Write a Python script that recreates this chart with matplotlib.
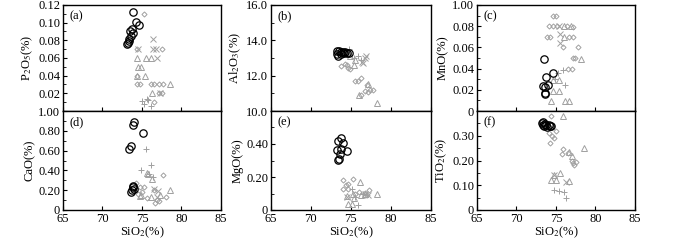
import matplotlib
matplotlib.use('Agg')
import matplotlib.pyplot as plt
from matplotlib.ticker import MultipleLocator

plt.rcParams['font.family'] = ['Liberation Serif', 'DejaVu Serif']
plt.rcParams['mathtext.fontset'] = 'stix'

# (SiO2, oxide) pairs, per symbol group
# (a) P2O5
p2o5_circle = [(73.8, 0.112), (74.3, 0.101), (74.6, 0.097), (73.7, 0.093), (73.5, 0.091), (73.8, 0.088),
               (73.6, 0.085), (73.4, 0.082), (73.3, 0.079), (73.2, 0.077), (73.1, 0.076)]
p2o5_diamond = [(75.3, 0.110), (74.4, 0.070), (77.5, 0.070), (74.4, 0.030), (74.7, 0.030), (76.1, 0.030),
                (76.5, 0.030), (77.2, 0.030), (77.7, 0.030), (77.1, 0.020), (77.5, 0.020), (76.5, 0.010),
                (74.4, 0.040)]
p2o5_triangle = [(74.4, 0.060), (75.5, 0.060), (76.2, 0.060), (74.5, 0.050), (74.9, 0.050), (74.4, 0.040),
                 (75.4, 0.040), (78.6, 0.030), (76.3, 0.020)]
p2o5_cross = [(76.4, 0.082), (76.4, 0.070), (76.8, 0.070), (76.9, 0.060), (74.45, 0.070), (77.3, 0.020)]
p2o5_plus = [(74.95, 0.011), (75.6, 0.014), (76.2, 0.006), (75.3, 0.008), (75.8, 0.012)]

# (d) CaO
cao_circle = [(74.0, 0.885), (73.8, 0.86), (75.1, 0.78), (73.6, 0.65), (73.3, 0.62), (73.8, 0.24),
              (74.0, 0.21), (73.6, 0.18), (73.9, 0.23), (73.7, 0.20)]
cao_diamond = [(77.7, 0.355), (74.3, 0.27), (75.3, 0.23), (74.8, 0.23), (75.6, 0.12), (76.9, 0.10),
               (78.0, 0.13), (76.7, 0.07), (74.5, 0.16), (77.2, 0.09), (76.5, 0.20), (75.0, 0.18)]
cao_triangle = [(75.6, 0.37), (76.3, 0.31), (78.5, 0.20), (74.7, 0.14), (74.9, 0.15), (76.2, 0.13),
                (77.3, 0.15), (75.8, 0.36)]
cao_cross = [(76.5, 0.21), (77.0, 0.19), (76.9, 0.13)]
cao_plus = [(75.5, 0.617), (76.1, 0.455), (74.9, 0.405), (75.9, 0.36), (76.4, 0.33)]

# (b) Al2O3
al2o3_circle = [(73.2, 13.38), (73.5, 13.42), (73.8, 13.35), (74.0, 13.33), (74.3, 13.36), (74.7, 13.27),
                (73.4, 13.14), (73.7, 13.25), (74.5, 13.30), (73.3, 13.25), (74.1, 13.28)]
al2o3_diamond = [(73.8, 12.57), (74.2, 12.66), (74.5, 12.60), (74.9, 12.38), (75.5, 11.68), (76.2, 11.85),
                 (75.9, 11.70), (76.96, 11.49), (76.7, 11.14), (76.3, 10.91), (77.4, 11.18), (77.8, 11.18),
                 (77.1, 11.10), (74.6, 12.45)]
al2o3_triangle = [(75.4, 12.58), (74.9, 13.10), (78.2, 10.44), (76.0, 10.90), (77.1, 11.52), (75.5, 12.90)]
al2o3_cross = [(76.75, 13.0), (76.4, 12.8), (76.9, 13.1), (76.5, 12.7)]
al2o3_plus = [(74.7, 13.5), (75.4, 13.01), (76.2, 12.86), (75.9, 13.1)]

# (e) MgO
mgo_circle = [(73.8, 0.437), (73.4, 0.418), (74.0, 0.406), (73.3, 0.365), (73.7, 0.37), (74.5, 0.357),
              (73.6, 0.34), (73.46, 0.312), (73.35, 0.305)]
mgo_diamond = [(75.2, 0.188), (74.0, 0.18), (74.6, 0.155), (74.0, 0.129), (74.6, 0.13), (77.3, 0.12),
               (76.0, 0.11), (76.8, 0.105), (75.5, 0.10), (77.0, 0.09), (74.4, 0.15)]
mgo_triangle = [(76.1, 0.169), (78.3, 0.094), (74.5, 0.084), (75.4, 0.07), (74.6, 0.035), (75.1, 0.035),
                (76.7, 0.097), (75.2, 0.10), (76.2, 0.09)]
mgo_cross = [(76.7, 0.095), (77.1, 0.09), (74.5, 0.08)]
mgo_plus = [(75.9, 0.031), (75.5, 0.08), (75.1, 0.125), (76.5, 0.10)]

# (c) MnO
mno_circle = [(73.5, 0.049), (74.6, 0.036), (73.7, 0.032), (74.0, 0.0245), (73.3, 0.024), (73.6, 0.023),
              (73.6, 0.017), (73.65, 0.016)]
mno_diamond = [(74.6, 0.090), (75.0, 0.090), (74.15, 0.080), (74.6, 0.080), (75.1, 0.080), (76.4, 0.080),
               (77.1, 0.079), (73.9, 0.070), (74.2, 0.070), (76.6, 0.070), (77.1, 0.070), (75.9, 0.060),
               (77.8, 0.060), (77.1, 0.050), (77.4, 0.050), (76.5, 0.040), (77.0, 0.040)]
mno_triangle = [(76.0, 0.080), (76.9, 0.080), (76.0, 0.070), (78.2, 0.049), (74.6, 0.029), (75.4, 0.029),
                (74.6, 0.019), (75.4, 0.019), (74.4, 0.009), (76.2, 0.009), (76.6, 0.009)]
mno_cross = [(75.4, 0.080), (75.5, 0.073), (75.5, 0.064)]
mno_plus = [(75.9, 0.039), (75.3, 0.036), (76.1, 0.0245), (74.9, 0.030)]

# (f) TiO2
tio2_circle = [(73.2, 0.350), (73.4, 0.355), (73.6, 0.348), (73.8, 0.345), (74.1, 0.343), (74.4, 0.338),
               (73.5, 0.340), (73.9, 0.336), (73.3, 0.345), (74.2, 0.340)]
tio2_diamond = [(74.4, 0.38), (75.0, 0.32), (74.1, 0.31), (74.7, 0.289), (74.3, 0.27), (75.9, 0.247),
                (75.8, 0.225), (76.5, 0.232), (77.5, 0.195), (77.0, 0.20), (77.3, 0.183), (74.5, 0.30),
                (77.1, 0.19)]
tio2_triangle = [(75.9, 0.38), (78.6, 0.25), (77.0, 0.22), (75.5, 0.148), (74.7, 0.14), (74.4, 0.12),
                 (75.0, 0.12), (76.7, 0.117), (76.6, 0.235)]
tio2_cross = [(76.3, 0.113), (74.8, 0.143)]
tio2_plus = [(74.8, 0.08), (75.4, 0.078), (76.0, 0.074), (76.3, 0.05)]

GREY = '#a0a0a0'
FS = 9


def draw(ax, circle, diamond, triangle, cross, plus):
    for pts, mk, ms in [(diamond, 'D', 2.6), (triangle, '^', 4.0)]:
        ax.plot([p[0] for p in pts], [p[1] for p in pts], ls='none', marker=mk, ms=ms,
                mfc='none', mec=GREY, mew=0.7)
    for pts, mk in [(cross, 'x'), (plus, '+')]:
        ax.plot([p[0] for p in pts], [p[1] for p in pts], ls='none', marker=mk, ms=4.0,
                color=GREY, mew=0.7)
    ax.plot([p[0] for p in circle], [p[1] for p in circle], ls='none', marker='o', ms=5.3,
            mfc='none', mec='black', mew=0.9)


def style(ax, ylim, yticks, ylabels, ylabel, tag, minor, bottom):
    ax.set_xlim(65, 85)
    ax.set_ylim(*ylim)
    ax.set_yticks(yticks)
    ax.set_yticklabels(ylabels)
    for t in ax.get_yticklabels():
        t.set_va('center_baseline')
    ax.yaxis.set_minor_locator(MultipleLocator(minor))
    ax.set_xticks([65, 70, 75, 80, 85])
    ax.tick_params(direction='in', labelsize=FS, length=3, width=0.8, pad=2)
    ax.tick_params(axis='x', pad=2.5)
    ax.tick_params(which='minor', direction='in', length=1.8, width=0.6)
    if bottom:
        ax.set_xlabel('SiO$_2$(%)', fontsize=FS, labelpad=-0.5)
    else:
        ax.tick_params(axis='x', labelbottom=False)
    ax.set_ylabel(ylabel, fontsize=FS, labelpad=2)
    ax.text(0.04, 0.95, tag, transform=ax.transAxes, fontsize=FS, va='top', ha='left')
    for s in ax.spines.values():
        s.set_linewidth(1.0)


fig = plt.figure(figsize=(7, 2.4), dpi=100)

cols = [(0.090, 0.2257), (0.387, 0.2286), (0.6814, 0.2257)]
top_box = (0.5375, 0.4417)
bot_box = (0.125, 0.4125)

ax_a = fig.add_axes([cols[0][0], top_box[0], cols[0][1], top_box[1]])
ax_d = fig.add_axes([cols[0][0], bot_box[0], cols[0][1], bot_box[1]])
ax_b = fig.add_axes([cols[1][0], top_box[0], cols[1][1], top_box[1]])
ax_e = fig.add_axes([cols[1][0], bot_box[0], cols[1][1], bot_box[1]])
ax_c = fig.add_axes([cols[2][0], top_box[0], cols[2][1], top_box[1]])
ax_f = fig.add_axes([cols[2][0], bot_box[0], cols[2][1], bot_box[1]])

draw(ax_a, p2o5_circle, p2o5_diamond, p2o5_triangle, p2o5_cross, p2o5_plus)
draw(ax_d, cao_circle, cao_diamond, cao_triangle, cao_cross, cao_plus)
draw(ax_b, al2o3_circle, al2o3_diamond, al2o3_triangle, al2o3_cross, al2o3_plus)
draw(ax_e, mgo_circle, mgo_diamond, mgo_triangle, mgo_cross, mgo_plus)
draw(ax_c, mno_circle, mno_diamond, mno_triangle, mno_cross, mno_plus)
draw(ax_f, tio2_circle, tio2_diamond, tio2_triangle, tio2_cross, tio2_plus)

style(ax_a, (0, 0.12), [0.02, 0.04, 0.06, 0.08, 0.10, 0.12],
      ['0.02', '0.04', '0.06', '0.08', '0.10', '0.12'], 'P$_2$O$_5$(%)', '(a)', 0.01, False)
style(ax_d, (0, 1.0), [0, 0.2, 0.4, 0.6, 0.8, 1.0],
      ['0', '0.20', '0.40', '0.60', '0.80', '1.00'], 'CaO(%)', '(d)', 0.1, True)
style(ax_b, (10, 16), [10, 12, 14, 16], ['10.0', '12.0', '14.0', '16.0'],
      'Al$_2$O$_3$(%)', '(b)', 1, False)
style(ax_e, (0, 0.6), [0, 0.2, 0.4], ['0', '0.20', '0.40'], 'MgO(%)', '(e)', 0.1, True)
style(ax_c, (0, 0.10), [0, 0.02, 0.04, 0.06, 0.08, 0.10],
      ['0', '0.02', '0.04', '0.06', '0.08', '1.00'], 'MnO(%)', '(c)', 0.01, False)
style(ax_f, (0, 0.4), [0, 0.1, 0.2, 0.3], ['0', '0.10', '0.20', '0.30'], 'TiO$_2$(%)', '(f)', 0.05, True)

fig.savefig('out.png', dpi=100)
